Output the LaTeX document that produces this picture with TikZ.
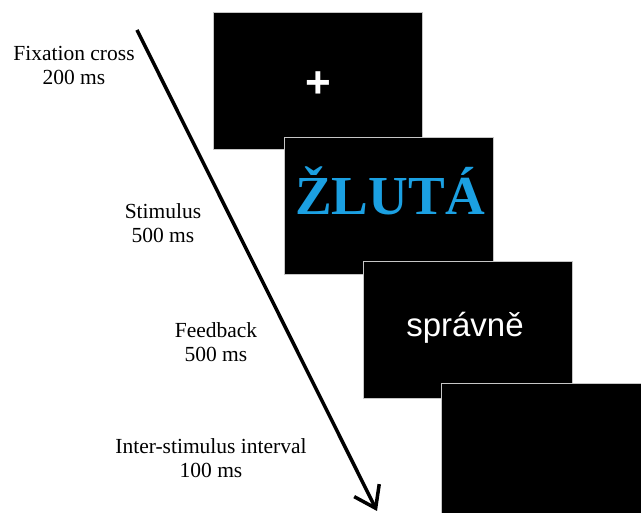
\documentclass[tikz,border=0pt]{standalone}
\usepackage{fontspec}
\setmainfont{Liberation Serif}
\newfontfamily\screenfont{Liberation Sans}
\usetikzlibrary{arrows.meta}
\definecolor{stimblue}{RGB}{27,160,226}

\begin{document}
\begin{tikzpicture}[x=1pt, y=-1pt,
  screen/.style={draw=gray!45, line width=1pt, fill=black, minimum width=209pt, minimum height=137pt, inner sep=0pt, anchor=north west},
  phase/.style={align=center, font=\fontsize{21.5}{24}\selectfont, anchor=base}]
\useasboundingbox (0,0) rectangle (641,513);

% Screens, each one on top of the one before
\node[screen] (s1) at (213,12) {};
\node[screen] (s2) at (284,137) {};
\node[screen] (s3) at (363,261) {};
\node[screen] (s4) at (441,383) {};

% Screen contents
\node[font=\screenfont\bfseries\fontsize{44}{44}\selectfont, text=white, inner sep=0pt] (cross) at (318,85) {+};
\node[font=\bfseries\fontsize{55}{55}\selectfont, text=stimblue, anchor=base, inner sep=0pt] (word) at (390,215) {ŽLUTÁ};
\node[font=\screenfont\fontsize{33}{33}\selectfont, text=white, anchor=base, inner sep=0pt] (fb) at (465,337) {správně};

% Phase labels
\node[phase] (fixlabel) at (74,85) {Fixation cross\\200 ms};
\node[phase] (stimlabel) at (163,243) {Stimulus\\ 500 ms};
\node[phase] (fblabel) at (216,362) {Feedback\\ 500 ms};
\node[phase] (isilabel) at (211,478) {Inter-stimulus interval\\100 ms};

% Time arrow
\coordinate (tstart) at (137,30);
\coordinate (tend) at (377,511);
\draw[line width=3.5pt, -{Straight Barb[length=20pt,width=28pt]}] (tstart) -- (tend);
\end{tikzpicture}
\end{document}
